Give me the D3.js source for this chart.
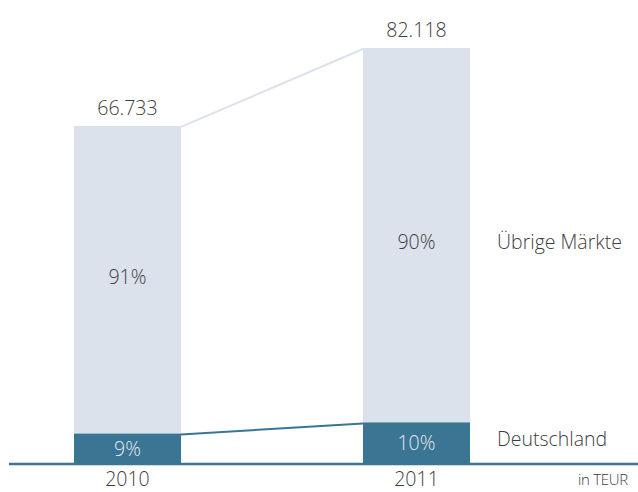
<!DOCTYPE html>
<html>
<head>
<meta charset="utf-8">
<script src="https://cdn.jsdelivr.net/npm/d3@7"></script>
<style>
  body { margin: 0; background: #fff; }
  text { font-family: "Open Sans", Roboto, sans-serif; font-weight: 300; fill: #3d3d3d; }
</style>
</head>
<body>
<div id="chart"></div>
<script>
var years = ["2010", "2011"];
var totals = [66733, 82118];
var totalLabels = ["66.733", "82.118"];
var shareDeutschland = [9, 10];
var shareUebrige = [91, 90];
var seriesNames = ["Deutschland", "Übrige Märkte"];

var width = 638, height = 492;
var base = 464;
var fs = "19.5px";

var svg = d3.select("#chart").append("svg")
    .attr("width", width)
    .attr("height", height);

var x = d3.scaleBand()
    .domain(years)
    .range([74, 470])
    .paddingInner(0.6298)
    .paddingOuter(0);

var y = d3.scaleLinear()
    .domain([0, 82118])
    .range([base, 48]);

var data = years.map(function(yr, i) {
  var de = totals[i] * shareDeutschland[i] / 100;
  return { year: yr, total: totals[i], label: totalLabels[i], de: de,
           pDe: shareDeutschland[i], pRest: shareUebrige[i] };
});

var light = "#dce2ec", dark = "#3a7593";

// connector lines
svg.append("line")
    .attr("x1", x(years[0]) + x.bandwidth()).attr("y1", y(data[0].total) + 1)
    .attr("x2", x(years[1])).attr("y2", y(data[1].total) + 1)
    .attr("stroke", light).attr("stroke-width", 2);

svg.append("line")
    .attr("x1", x(years[0]) + x.bandwidth()).attr("y1", y(data[0].de) + 1)
    .attr("x2", x(years[1])).attr("y2", y(data[1].de) + 1)
    .attr("stroke", dark).attr("stroke-width", 2);

// bars
svg.selectAll(".rest")
    .data(data)
    .enter().append("rect")
    .attr("class", "rest")
    .attr("x", function(d){ return x(d.year); })
    .attr("width", x.bandwidth())
    .attr("y", function(d){ return y(d.total); })
    .attr("height", function(d){ return y(d.de) - y(d.total); })
    .attr("fill", light);

svg.selectAll(".de")
    .data(data)
    .enter().append("rect")
    .attr("class", "de")
    .attr("x", function(d){ return x(d.year); })
    .attr("width", x.bandwidth())
    .attr("y", function(d){ return y(d.de); })
    .attr("height", function(d){ return base - y(d.de); })
    .attr("fill", dark);

// baseline
svg.append("line")
    .attr("x1", 9).attr("x2", width)
    .attr("y1", base).attr("y2", base)
    .attr("stroke", dark).attr("stroke-width", 2.5);

// totals
svg.selectAll(".total")
    .data(data)
    .enter().append("text")
    .attr("x", function(d){ return x(d.year) + x.bandwidth() / 2; })
    .attr("y", function(d){ return y(d.total) - 11; })
    .attr("text-anchor", "middle")
    .style("font-size", fs)
    .text(function(d){ return d.label; });

// percent inside light segment
svg.selectAll(".prest")
    .data(data)
    .enter().append("text")
    .attr("x", function(d){ return x(d.year) + x.bandwidth() / 2; })
    .attr("y", function(d, i){ return i == 0 ? 284 : 249; })
    .attr("text-anchor", "middle")
    .style("font-size", fs)
    .text(function(d){ return d.pRest + "%"; });

// percent inside dark segment
svg.selectAll(".pde")
    .data(data)
    .enter().append("text")
    .attr("x", function(d){ return x(d.year) + x.bandwidth() / 2; })
    .attr("y", function(d){ return (y(d.de) + base) / 2 + 7; })
    .attr("text-anchor", "middle")
    .style("font-size", fs)
    .style("fill", "#e4e9f1")
    .text(function(d){ return d.pDe + "%"; });

// year labels
svg.selectAll(".year")
    .data(data)
    .enter().append("text")
    .attr("x", function(d){ return x(d.year) + x.bandwidth() / 2; })
    .attr("y", 486)
    .attr("text-anchor", "middle")
    .style("font-size", fs)
    .text(function(d){ return d.year; });

// series labels
svg.append("text")
    .attr("x", 497).attr("y", 249)
    .style("font-size", fs)
    .text(seriesNames[1]);

svg.append("text")
    .attr("x", 497).attr("y", 446)
    .style("font-size", fs)
    .text(seriesNames[0]);

svg.append("text")
    .attr("x", 578).attr("y", 485)
    .style("font-size", "15px")
    .style("letter-spacing", "-0.3px")
    .text("in TEUR");
</script>
</body>
</html>
